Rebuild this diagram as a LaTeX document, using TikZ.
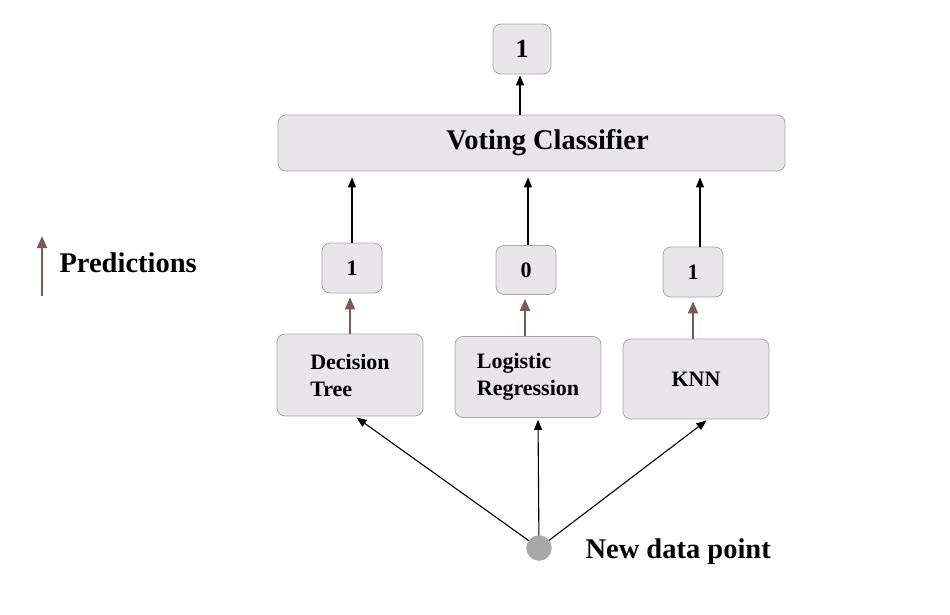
\documentclass[tikz,border=0pt]{standalone}
\usepackage{fontspec}
\setmainfont{Liberation Serif}
\usetikzlibrary{arrows.meta}
\definecolor{boxfill}{HTML}{E8E6E8}
\definecolor{boxline}{HTML}{A8A8A8}
\definecolor{brownarr}{HTML}{7B5A55}
\definecolor{dotfill}{HTML}{A8A8A8}
\begin{document}
\begin{tikzpicture}[x=1pt,y=-1pt,
  gbox/.style={draw=boxline,fill=boxfill,rounded corners=8pt,line width=0.8pt,inner sep=0pt,font=\bfseries},
  blackarr/.style={-{Triangle[length=10pt,width=8pt]},line width=1.1pt,black},
  brarr/.style={-{Triangle[length=12pt,width=10pt]},line width=2pt,brownarr},
  dataarr/.style={-{Triangle[length=10pt,width=8pt]},line width=1.1pt,black}]
\useasboundingbox (0,0) rectangle (950,614);
% top output
\node[gbox,minimum width=58pt,minimum height=50pt,font=\bfseries\fontsize{26}{28}\selectfont] (out) at (522,49) {1};
% voting classifier
\node[gbox,minimum width=507pt,minimum height=56pt,font=\bfseries\fontsize{28.5}{30}\selectfont] (vc) at (531.5,143) {\hspace*{32pt}Voting Classifier};
% predictions
\node[gbox,minimum width=60pt,minimum height=50pt,font=\bfseries\fontsize{22}{24}\selectfont] (p1) at (352,268) {1};
\node[gbox,minimum width=60pt,minimum height=49pt,font=\bfseries\fontsize{22}{24}\selectfont] (p2) at (526,270) {0};
\node[gbox,minimum width=60pt,minimum height=50pt,font=\bfseries\fontsize{22}{24}\selectfont] (p3) at (693,272) {1};
% models
\node[gbox,minimum width=146pt,minimum height=82pt,align=left,font=\bfseries\fontsize{22}{27}\selectfont] (dt) at (350,375) {Decision\\Tree};
\node[gbox,minimum width=146pt,minimum height=81pt,align=left,font=\bfseries\fontsize{22}{27}\selectfont] (lr) at (528,377) {Logistic\\Regression};
\node[gbox,minimum width=146pt,minimum height=80pt,font=\bfseries\fontsize{22}{27}\selectfont] (knn) at (696,379) {KNN};
% data point
\node[circle,fill=dotfill,draw=dotfill,minimum size=25pt,inner sep=0pt] (dp) at (539,548) {};
\node[anchor=west,font=\bfseries\fontsize{28.5}{30}\selectfont] (dplabel) at (582,552) {New data point};
% legend
\coordinate (lgb) at (42,296);
\coordinate (lgt) at (42,236);
\draw[brarr,line width=1.8pt] (lgb) -- (lgt);
\node[anchor=west,font=\bfseries\fontsize{28.5}{30}\selectfont] (lglabel) at (56,263) {Predictions};
% connectors
\draw[blackarr,shorten >=1pt] (vc.north -| out.south) ++(-2,0) coordinate (vctop) (vctop) -- (vctop |- out.south);
\draw[blackarr,shorten >=6pt] (p1.north) -- (p1.north |- vc.south);
\draw[blackarr,shorten >=6pt] ([xshift=2pt]p2.north) -- ([xshift=2pt]p2.north |- vc.south);
\draw[blackarr,shorten >=6pt] ([xshift=7pt]p3.north) -- ([xshift=7pt]p3.north |- vc.south);
\draw[brarr,shorten >=4pt] (dt.north) -- (dt.north |- p1.south);
\draw[brarr,shorten >=4pt] ([xshift=-3pt]lr.north) -- ([xshift=-3pt]lr.north |- p2.south);
\draw[brarr,shorten >=4pt] ([xshift=-3pt]knn.north) -- ([xshift=-3pt]knn.north |- p3.south);
\draw[dataarr,shorten >=2pt] (dp) -- ([xshift=5pt]dt.south);
\draw[dataarr,shorten >=2pt] (dp) -- ([xshift=10pt]lr.south);
\draw[dataarr,shorten >=2pt] (dp) -- ([xshift=12pt]knn.south);
\end{tikzpicture}
\end{document}
